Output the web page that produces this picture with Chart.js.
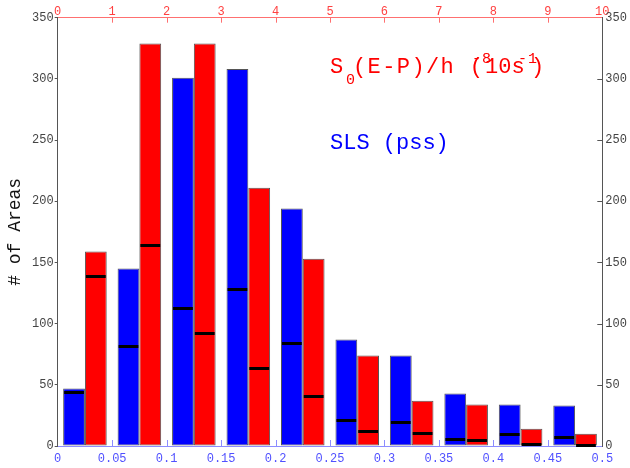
<!DOCTYPE html>
<html>
<head>
<meta charset="utf-8">
<script src="https://cdn.jsdelivr.net/npm/chart.js@4.4.1/dist/chart.umd.min.js"></script>
<style>
  html, body { margin: 0; padding: 0; background: #fff; }
  #wrap { width: 630px; height: 468px; }
</style>
</head>
<body>
<div id="wrap"><canvas id="chart"></canvas></div>
<script>
// Histogram bins (0.05 wide on the bottom axis)
const bins = ['0-0.05', '0.05-0.1', '0.1-0.15', '0.15-0.2', '0.2-0.25',
              '0.25-0.3', '0.3-0.35', '0.35-0.4', '0.4-0.45', '0.45-0.5'];

// SLS (pss) — blue bars, with inner black marks
const slsCounts = [47, 145, 301, 308, 194, 87, 74, 43, 34, 33];
const slsInner  = [44, 82, 113, 128, 84, 21, 20, 6, 10, 7];

// S0(E-P)/h — red bars, with inner black marks
const epCounts = [159, 329, 329, 211, 153, 74, 37, 34, 14, 10];
const epInner  = [139, 164, 92, 64, 41, 12, 11, 5, 2, 1];

// Axis ticks
const yTicks = [0, 50, 100, 150, 200, 250, 300, 350];
const bottomTicks  = [0, 0.05, 0.1, 0.15, 0.2, 0.25, 0.3, 0.35, 0.4, 0.45, 0.5];
const bottomLabels = ['0', '0.05', '0.1', '0.15', '0.2', '0.25', '0.3', '0.35', '0.4', '0.45', '0.5'];
const topTicks  = [0, 1, 2, 3, 4, 5, 6, 7, 8, 9, 10];
const topLabels = ['0', '1', '2', '3', '4', '5', '6', '7', '8', '9', '10'];

const MONO = '"Liberation Mono", "DejaVu Sans Mono", monospace';
Chart.defaults.font.family = MONO;
Chart.defaults.font.size = 12;

const setTicks = (vals) => (scale) => { scale.ticks = vals.map(v => ({ value: v })); };

// Inner tick marks + black marks inside the bars + annotation text
const extras = {
  id: 'extras',
  afterDatasetsDraw(chart) {
    const ctx = chart.ctx;
    const y = chart.scales.y;
    ctx.save();
    ctx.strokeStyle = '#000';
    ctx.lineWidth = 3;
    [[0, slsInner], [1, epInner]].forEach(([di, vals]) => {
      chart.getDatasetMeta(di).data.forEach((bar, i) => {
        const py = Math.round(y.getPixelForValue(vals[i])) + 0.5;
        ctx.beginPath();
        ctx.moveTo(bar.x - bar.width / 2 + 1, py);
        ctx.lineTo(bar.x + bar.width / 2 - 1, py);
        ctx.stroke();
      });
    });
    ctx.restore();
  },
  afterDraw(chart) {
    const ctx = chart.ctx;
    const a = chart.chartArea;
    const { xb, xt, yr } = chart.scales;
    ctx.save();
    ctx.lineWidth = 1;

    // bottom: ticks pointing up
    ctx.strokeStyle = '#8c8cff';
    xb.ticks.slice(1, -1).forEach(t => {
      const px = Math.round(xb.getPixelForValue(t.value)) + 0.5;
      ctx.beginPath(); ctx.moveTo(px, a.bottom); ctx.lineTo(px, a.bottom - 6); ctx.stroke();
    });
    // top: ticks pointing down
    ctx.strokeStyle = '#ff7070';
    xt.ticks.slice(1, -1).forEach(t => {
      const px = Math.round(xt.getPixelForValue(t.value)) + 0.5;
      ctx.beginPath(); ctx.moveTo(px, a.top); ctx.lineTo(px, a.top + 5); ctx.stroke();
    });
    // right: ticks pointing left
    ctx.strokeStyle = '#555';
    yr.ticks.slice(1, -1).forEach(t => {
      const py = Math.round(yr.getPixelForValue(t.value)) + 0.5;
      ctx.beginPath(); ctx.moveTo(a.right, py); ctx.lineTo(a.right - 5, py); ctx.stroke();
    });

    // annotation text
    ctx.textBaseline = 'alphabetic';
    ctx.textAlign = 'left';
    ctx.fillStyle = '#ff0000';
    ctx.font = '22px ' + MONO;
    ctx.fillText('S', 330, 73);
    ctx.font = '15px ' + MONO;
    ctx.fillText('0', 346, 84);
    ctx.font = '22px ' + MONO;
    ctx.letterSpacing = '1.4px';
    ctx.fillText('(E-P)/h (', 353, 73);
    ctx.letterSpacing = '0px';
    ctx.fillText('10s', 485, 73);
    ctx.fillText(')', 531, 73);
    ctx.font = '15px ' + MONO;
    ctx.letterSpacing = '1px';
    ctx.fillText('-8', 472, 63);
    ctx.fillText('-1', 518, 63);
    ctx.letterSpacing = '0px';

    ctx.fillStyle = '#0000ff';
    ctx.font = '22px ' + MONO;
    ctx.fillText('SLS (pss)', 330, 149);
    ctx.restore();
  }
};

new Chart(document.getElementById('chart'), {
  type: 'bar',
  data: {
    labels: bins,
    datasets: [
      {
        label: 'SLS (pss)',
        data: slsCounts,
        backgroundColor: '#0000ff',
        borderColor: '#555',
        borderWidth: 1,
        borderSkipped: false,
      },
      {
        label: 'S0(E-P)/h',
        data: epCounts,
        backgroundColor: '#ff0000',
        borderColor: '#555',
        borderWidth: 1,
        borderSkipped: false,
      },
    ],
  },
  options: {
    responsive: true,
    maintainAspectRatio: false,
    animation: false,
    layout: { padding: 0 },
    datasets: { bar: { categoryPercentage: 0.8, barPercentage: 1.0 } },
    plugins: { legend: { display: false }, tooltip: { enabled: false } },
    scales: {
      x: { type: 'category', display: false },
      xb: {
        type: 'linear', axis: 'x', position: 'bottom', min: 0, max: 0.5, offset: false,
        afterBuildTicks: setTicks(bottomTicks),
        afterFit: s => { s.height = 22; },
        grid: { drawOnChartArea: false, drawTicks: false, offset: false },
        border: { color: '#8c8cff', width: 1 },
        ticks: { color: '#5050ff', padding: 6, maxRotation: 0, autoSkip: false,
                 callback: (v, i) => bottomLabels[i] },
      },
      xt: {
        type: 'linear', axis: 'x', position: 'top', min: 0, max: 10, offset: false,
        afterBuildTicks: setTicks(topTicks),
        afterFit: s => { s.height = 17.7; },
        grid: { drawOnChartArea: false, drawTicks: false, offset: false },
        border: { color: '#ff7070', width: 1 },
        ticks: { color: '#ff4040', padding: -1, maxRotation: 0, autoSkip: false,
                 callback: (v, i) => topLabels[i] },
      },
      y: {
        type: 'linear', position: 'left', min: 0, max: 350,
        afterBuildTicks: setTicks(yTicks),
        afterFit: s => { s.width = 57.7; },
        grid: { drawOnChartArea: false, tickLength: 3, color: '#555' },
        border: { color: '#555', width: 1 },
        ticks: { color: '#444', padding: 1 },
        title: { display: true, text: '# of Areas', color: '#111',
                 font: { size: 18, family: MONO }, padding: { top: 4, bottom: 4 } },
      },
      yr: {
        type: 'linear', axis: 'y', position: 'right', min: 0, max: 350,
        afterBuildTicks: setTicks(yTicks),
        afterFit: s => { s.width = 27.7; },
        grid: { drawOnChartArea: false, drawTicks: false },
        border: { color: '#555', width: 1 },
        ticks: { color: '#444', padding: 3 },
      },
    },
  },
  plugins: [extras],
});
</script>
</body>
</html>
